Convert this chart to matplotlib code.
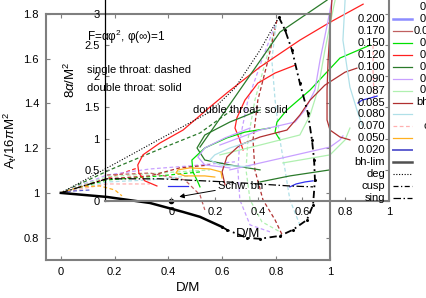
import matplotlib
matplotlib.use("Agg")
import matplotlib.pyplot as plt
from matplotlib.lines import Line2D
from matplotlib.ticker import FuncFormatter

plt.rcParams['font.family'] = ['Liberation Sans', 'DejaVu Sans']
plt.rcParams['mathtext.fontset'] = 'custom'
plt.rcParams['mathtext.rm'] = 'Liberation Sans'
plt.rcParams['mathtext.it'] = 'Liberation Sans:italic'
plt.rcParams['font.size'] = 8

# ---- data (D/M, A_t/16piM^2) ----
bh_lim_D = [0, .171, .331, .454, .517, .599]
bh_lim_A = [1.0, .982, .955, .915, .893, .848]

cusp_D = [.810, .833, .859, .888, .918, .933, .941, .944, .937, .914, .862, .814, .740, .691, .617, .599]
cusp_A = [1.786, 1.728, 1.638, 1.491, 1.357, 1.237, 1.147, 1.058, .946, .879, .835, .808, .795, .799, .835, .848]

deg_D = [0, .145, .368, .554, .647, .740, .810]
deg_A = [1, 1.094, 1.241, 1.362, 1.469, 1.638, 1.786]

sing_D = [0, .108, .171, .368, .617, .851, .937]
sing_A = [1, 1.040, 1.063, 1.063, 1.049, 1.031, 1.027]

# alpha = 0.120 (red)
red_s_D = [.357, .312, .290, .286, .305, .368, .454, .554, .621, .740, .888, 1.0, 1.123]
red_s_A = [1.031, 1.054, 1.089, 1.125, 1.170, 1.223, 1.281, 1.384, 1.451, 1.563, 1.683, 1.763, 1.844]
red_s2_D = [.870, .796, .732, .684, .654, .647, .665, .677]
red_s2_A = [1.571, 1.536, 1.491, 1.415, 1.335, 1.290, 1.237, 1.192]
red_d_D = [0, .145, .286]
red_d_A = [1, 1.054, 1.112]

# alpha = 0.100 (dark green)
dg_s_D = [.517, .639, .814, .989]
dg_s_A = [1.205, 1.415, 1.719, 1.862]
dg_s2_D = [.740, .628, .535, .506, .535, .628, .740]
dg_s2_A = [1.371, 1.317, 1.259, 1.201, 1.147, 1.125, 1.103]
dg_s3_D = [.740, .851, 1.0]
dg_s3_A = [1.049, 1.076, 1.103]
dg_d_D = [0, .182, .368, .517, .636]
dg_d_A = [1, 1.103, 1.196, 1.268, 1.371]

# alpha = 0.150 (green)
g_s_D = [1.149, 1.037, .926, .840, .803, .796, .814]
g_s_A = [1.661, 1.603, 1.460, 1.371, 1.317, 1.272, 1.237]
g_s2_D = [.777, .684, .617, .535, .487, .491, .509, .517]
g_s2_A = [1.290, 1.272, 1.246, 1.201, 1.147, 1.094, 1.049, 1.027]
g_d_D = [0, .171, .368, .517]
g_d_A = [1, 1.058, 1.076, 1.094]

# alpha = 0.090 (purple)
p_s_D = [.591, .740, .870, .907, .944, .963, .993, 1.007]
p_s_A = [1.214, 1.281, 1.317, 1.371, 1.460, 1.594, 1.772, 1.862]
p_s2_D = [.628, .840, 1.0, 1.037, 1.048]
p_s2_A = [1.103, 1.161, 1.205, 1.237, 1.255]
p_s3_D = [.703, .610, .535, .509, .535, .628]
p_s3_A = [1.290, 1.246, 1.201, 1.161, 1.125, 1.112]
p_d_D = [0, .171, .331, .480, .647]
p_d_A = [1, 1.080, 1.107, 1.121, 1.139]
p_d2_D = [.796, .747, .695, .665, .658, .665, .703, .777]
p_d2_A = [1.750, 1.594, 1.415, 1.237, 1.103, .969, .857, .826]

# alpha = 0.087 (light green)
lg_s_D = [.591, .740, .888, .926, .955, .981, 1.011, 1.019]
lg_s_A = [1.170, 1.214, 1.259, 1.348, 1.460, 1.638, 1.817, 1.862]
lg_s2_D = [.825, 1.0, 1.056, 1.074]
lg_s2_A = [1.134, 1.170, 1.237, 1.290]
lg_d_D = [0, .171, .368, .554]
lg_d_A = [1, 1.072, 1.089, 1.103]
lg_d2_D = [.799, .762, .721, .695, .688, .703, .747, .814]
lg_d2_A = [1.750, 1.594, 1.415, 1.237, 1.103, .969, .871, .826]

# alpha = 0.085 (brown)
br_s_D = [1.007, 1.0, .993, .989, .989, 1.0, 1.037, 1.074]
br_s_A = [1.862, 1.728, 1.594, 1.460, 1.326, 1.281, 1.250, 1.237]
br_s2_D = [1.100, 1.056, .981, .926, .888, .840, .740, .665, .617, .599, .610]
br_s2_A = [1.558, 1.540, 1.482, 1.415, 1.348, 1.281, 1.250, 1.214, 1.161, 1.094, 1.036]
br_d_D = [0, .171, .331, .442, .554]
br_d_A = [1, 1.063, 1.076, 1.112, 1.125]
br_d2_D = [.803, .770, .732, .714, .721, .751, .796, .822]
br_d2_A = [1.772, 1.594, 1.415, 1.237, 1.103, .969, .879, .813]

# alpha = 0.170 (dark red)
dr_d_D = [.171, .331, .461, .517, .535]
dr_d_A = [1.080, 1.089, 1.058, .991, .924]

# alpha = 0.080 (light cyan)
c_s_D = [1.056, 1.048, 1.074, 1.100, 1.119]
c_s_A = [1.862, 1.683, 1.473, 1.371, 1.304]
c_s2_D = [.721, .628, .572, .554, .591, .703]
c_s2_A = [1.237, 1.201, 1.170, 1.147, 1.125, 1.116]
c_d_D = [0, .171, .331, .480]
c_d_A = [1, 1.049, 1.058, 1.076]
c_d2_D = [.799, .784, .796, .814, .833, .851, .888]
c_d2_A = [1.750, 1.594, 1.415, 1.237, 1.103, .969, .857]

# alpha = 0.070 (pink)
pk_d_D = [1.160, 1.160, 1.164]
pk_d_A = [1.661, 1.549, 1.415]
pk_d2_D = [0, .171, .331]
pk_d2_A = [1, 1.040, 1.040]

# alpha = 0.050 (orange)
o_s_D = [.599, .595, .554, .480, .435, .428, .461, .535, .572]
o_s_A = [1.067, 1.094, 1.107, 1.112, 1.103, 1.089, 1.076, 1.076, 1.071]
o_d_D = [0, .071, .145, .201, .227]
o_d_A = [1, 1.027, 1.031, 1.013, .987]

# alpha = 0.020 / 0.200 (blue)
bl1_D = [.398, .472]
bl1_A = [1.031, 1.031]
bl2_D = [.851, .874, .907, .937]
bl2_A = [1.027, 1.040, 1.049, 1.054]
bl3_D = [1.104, 1.119, 1.149, 1.175]
bl3_A = [1.402, 1.415, 1.424, 1.433]
bl_d_D = [0, .052, .108]
bl_d_A = [1, 1.009, 1.013]

schw_D, schw_A = .409, .965

legend_labels = ["0.200", "0.170", "0.150", "0.120", "0.100", "0.090", "0.087",
                 "0.085", "0.080", "0.070", "0.050", "0.020",
                 "bh-lim", "deg", "cusp", "sing"]
legend2_labels = ["0.400", "0.300", "0.250", "0.0925", "0.150", "0.140",
                  "0.130", "0.110", "0.105", "bh-lim", "deg", "cusp", "sing"]

# ---- colours / styles ----
C = {"0.200": "#8c8cff", "0.170": "#c06060", "0.150": "#00e000",
     "0.120": "#ff2020", "0.100": "#2a7a2a", "0.090": "#c8a0ff",
     "0.087": "#b0f0b0", "0.085": "#b03030", "0.080": "#b0e0e8",
     "0.070": "#ffb0b0", "0.050": "#ffb020", "0.020": "#6060d0"}
DASH = (0, (3, 2))
CUSP = (0, (4, 2, 1, 2))
SING = (0, (6, 2, 1.2, 2))
DOT = (0, (1, 1.5))

W, H = 426, 298
fig = plt.figure(figsize=(W / 100, H / 100), dpi=100)


def box(l, t, r, b):
    return [l / W, 1 - b / H, (r - l) / W, (b - t) / H]


ax = fig.add_axes(box(46, 14, 330, 260))
ax.set_xlim(-0.055, 1.0)
ax.set_ylim(0.7, 1.8)


def line(D, A, col, ls="-", lw=0.9, z=2):
    ax.plot(D, A, color=col, ls=ls, lw=lw, clip_on=False, zorder=z)


# single throat (dashed)
for D, A, k in [(dg_d_D, dg_d_A, "0.100"), (red_d_D, red_d_A, "0.120"),
                (g_d_D, g_d_A, "0.150"), (p_d_D, p_d_A, "0.090"),
                (p_d2_D, p_d2_A, "0.090"), (lg_d_D, lg_d_A, "0.087"),
                (lg_d2_D, lg_d2_A, "0.087"), (br_d_D, br_d_A, "0.085"),
                (br_d2_D, br_d2_A, "0.085"), (dr_d_D, dr_d_A, "0.170"),
                (c_d_D, c_d_A, "0.080"), (c_d2_D, c_d2_A, "0.080"),
                (pk_d_D, pk_d_A, "0.070"), (pk_d2_D, pk_d2_A, "0.070"),
                (o_d_D, o_d_A, "0.050"), (bl_d_D, bl_d_A, "0.020")]:
    line(D, A, C[k], ls=DASH)

# double throat (solid)
for D, A, k in [(red_s_D, red_s_A, "0.120"), (red_s2_D, red_s2_A, "0.120"),
                (dg_s_D, dg_s_A, "0.100"), (dg_s2_D, dg_s2_A, "0.100"),
                (dg_s3_D, dg_s3_A, "0.100"), (g_s_D, g_s_A, "0.150"),
                (g_s2_D, g_s2_A, "0.150"), (p_s_D, p_s_A, "0.090"),
                (p_s2_D, p_s2_A, "0.090"), (p_s3_D, p_s3_A, "0.090"),
                (lg_s_D, lg_s_A, "0.087"), (lg_s2_D, lg_s2_A, "0.087"),
                (br_s_D, br_s_A, "0.085"), (br_s2_D, br_s2_A, "0.085"),
                (c_s_D, c_s_A, "0.080"), (c_s2_D, c_s2_A, "0.080"),
                (o_s_D, o_s_A, "0.050")]:
    line(D, A, C[k])
for D, A in [(bl1_D, bl1_A), (bl2_D, bl2_A), (bl3_D, bl3_A)]:
    line(D, A, "#3030f0")

line(bh_lim_D, bh_lim_A, "black", lw=1.8, z=3)
line(deg_D, deg_A, "black", ls=DOT, lw=0.8, z=3)
line(sing_D, sing_A, "black", ls=SING, lw=0.9, z=3)
line(cusp_D, cusp_A, "black", ls=CUSP, lw=1.3, z=3)
ax.plot(cusp_D, cusp_A, ls="none", marker="o", ms=1.2, color="black", clip_on=False, zorder=3)

ax.plot([schw_D], [schw_A], "o", color="black", ms=3, clip_on=False, zorder=4)
ax.annotate("Schw. bh", xy=(.44, .983), xytext=(.584, 1.031),
            fontsize=8, va="center", ha="left",
            arrowprops=dict(arrowstyle="-|>", color="black", lw=0.7,
                            mutation_scale=7, shrinkA=0, shrinkB=0))

GREY = "#7f7f7f"
fmt = FuncFormatter(lambda v, p: "%g" % round(v, 3))
ax.set_xticks([0, .2, .4, .6, .8, 1])
ax.set_yticks([.8, 1, 1.2, 1.4, 1.6, 1.8])
ax.xaxis.set_major_formatter(fmt)
ax.yaxis.set_major_formatter(fmt)
ax.tick_params(direction="in", length=3, width=0.8, color=GREY,
               top=True, right=True, pad=5)
for s in ax.spines.values():
    s.set_color(GREY)
    s.set_linewidth(1.5)
ax.set_xlabel("D/M", fontsize=9.5)
ax.set_ylabel(r"A$_t$/16$\pi$M$^2$", fontsize=9.5)
ax.yaxis.set_label_coords(-0.095, 0.484)
ax.xaxis.set_label_coords(0.5, -0.09)

# ---- inset: 8 alpha / M^2 vs D/M ----
axi = fig.add_axes(box(105, -2, 389, 201))
axi.set_facecolor("none")
axi.set_xlim(-0.305, 1.0)
axi.set_ylim(0, 3.25)
axi.set_xticks([0, .2, .4, .6, .8, 1])
axi.set_yticks([0, .5, 1, 1.5, 2, 2.5, 3])
axi.xaxis.set_major_formatter(fmt)
axi.yaxis.set_major_formatter(fmt)
axi.tick_params(direction="in", length=3, width=0.8, color=GREY,
                right=True, pad=4)
axi.spines["top"].set_visible(False)
axi.spines["left"].set_color("black")
axi.spines["left"].set_linewidth(0.9)
for s in ("bottom", "right"):
    axi.spines[s].set_color(GREY)
    axi.spines[s].set_linewidth(1.5)
axi.set_xlabel("D/M", fontsize=9.5)
axi.xaxis.set_label_coords(0.5035, -0.135)
axi.set_ylabel(r"8$\alpha$/M$^2$", fontsize=9.5)
axi.yaxis.set_label_coords(-0.095, 0.596)

# ---- texts ----
fig.text(87 / W, 1 - 37 / H, "F=αφ$^2$, φ(∞)=1", fontsize=8.5, va="center")
fig.text(87 / W, 1 - 70 / H, "single throat: dashed", fontsize=8, va="center")
fig.text(87 / W, 1 - 88 / H, "double throat: solid", fontsize=8, va="center")
fig.text(193 / W, 1 - 110 / H, "double throat: solid", fontsize=8, va="center")

# ---- legends (right side, partly cut) ----
styles = [dict(color=C[k], lw=0.9) for k in
          ["0.200", "0.170", "0.150", "0.120", "0.100", "0.090", "0.087",
           "0.085", "0.080"]]
styles[0]["lw"] = 1.8
styles += [dict(color=C["0.070"], lw=0.9, ls=DASH),
           dict(color=C["0.050"], lw=0.9), dict(color=C["0.020"], lw=1.4),
           dict(color="#505050", lw=1.8), dict(color="black", lw=0.8, ls=DOT),
           dict(color="black", lw=0.9, ls=CUSP), dict(color="black", lw=0.9, ls=SING)]
for i, (lab, st) in enumerate(zip(legend_labels, styles)):
    y = 1 - (19 + i * 11.93) / H
    fig.text(385 / W, y, lab, ha="right", va="center", fontsize=8)
    fig.add_artist(Line2D([393 / W, 412 / W], [y, y], transform=fig.transFigure, **st))
for i, lab in enumerate(legend2_labels):
    y = 1 - (-5 + i * 11.93) / H
    fig.text(447 / W, y, lab, ha="right", va="center", fontsize=8)

fig.savefig("out.png", dpi=100)
